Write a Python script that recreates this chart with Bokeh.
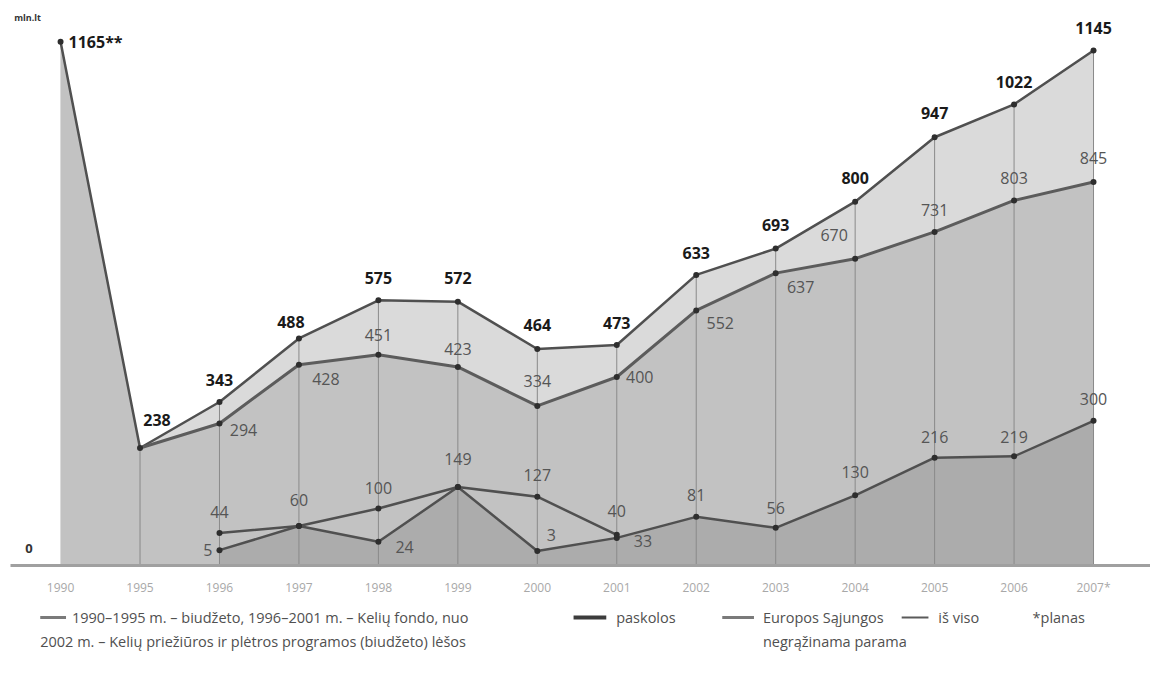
from bokeh.plotting import figure
from bokeh.models import Range1d, FixedTicker, ColumnDataSource
from bokeh.layouts import column
from bokeh.core.properties import value
from bokeh.embed import file_html
from bokeh.resources import INLINE

# ---------------- data ----------------
years = ["1990", "1995", "1996", "1997", "1998", "1999", "2000", "2001",
         "2002", "2003", "2004", "2005", "2006", "2007*"]
total = [1165, 238, 343, 488, 575, 572, 464, 473, 633, 693, 800, 947, 1022, 1145]
budget = [1165, 238, 294, 428, 451, 423, 334, 400, 552, 637, 670, 731, 803, 845]
loan_years = years[2:8]
loans = [44, 60, 100, 149, 127, 40]
eu_years = years[2:]
eu = [5, 60, 24, 149, 3, 33, 81, 56, 130, 216, 219, 300]
eu_label_shown = [True, False, True, False, True, True, True, True, True, True, True, True]
total_label_text = ["1165**"] + [str(v) for v in total[1:]]
unit_text = "mln.lt"
zero_text = "0"

legend_texts = [
    "1990–1995 m. – biudžeto, 1996–2001 m. – Kelių fondo, nuo",
    "2002 m. – Kelių priežiūros ir plėtros programos (biudžeto) lėšos",
    "paskolos",
    "Europos Sąjungos",
    "negrąžinama parama",
    "iš viso",
    "*planas",
]

# ---------------- styles ----------------
FONT = "Open Sans"
C_TOP = "#dadada"
C_BUD = "#c2c2c2"
C_EU = "#acacac"
C_LINE = "#505050"
C_DOT = "#2e2e2e"
BASE = -30  # bottom of the drawing area (fills reach the baseline)

# label offsets (pixels; dy > 0 means upward)
tot_dx = [8, 17, 0, -8, 0, 0, 0, 0, 0, 0, 0, 0, 0, 0]
tot_dy = [0, 28, 22, 16, 22, 24, 24, 22, 22, 24, 24, 24, 22, 22]
tot_align = ["left"] + ["center"] * 13
bud_dx = [24, 27, 0, 0, 0, 23, 24, 25, -21, 0, 0, 0]
bud_dy = [-7, -14, 20, 18, 25, 0, -13, -14, 24, 22, 22, 24]
loan_dx = [0, 0, 0, 0, 0, 0]
loan_dy = [21, 26, 21, 28, 22, 24]
eu_dx = [-7, 0, 17, 0, 14, 17, 0, 0, 0, 0, 0, 0]
eu_dy = [0, 0, -5, 0, 16, -3, 22, 20, 23, 21, 19, 22]
eu_align = ["right", "center", "left", "center", "center", "left"] + ["center"] * 6

xi = list(range(len(years)))
idx = {y: i for i, y in enumerate(years)}
loan_x = [idx[y] for y in loan_years]
eu_x = [idx[y] for y in eu_years]

p = figure(width=1150, height=608, x_range=Range1d(-0.63, 13.717), y_range=Range1d(BASE, 1259),
           toolbar_location=None, output_backend="svg", y_axis_type=None,
           min_border_left=10, min_border_right=0, min_border_top=0, min_border_bottom=43)
p.outline_line_color = None
p.grid.visible = False
p.background_fill_color = "white"

# fills
p.varea(x=xi, y1=[BASE] * len(xi), y2=total, fill_color=C_TOP)
p.varea(x=xi, y1=[BASE] * len(xi), y2=budget, fill_color=C_BUD)
p.varea(x=eu_x, y1=[BASE] * len(eu_x), y2=eu, fill_color=C_EU)

# vertical year lines
p.segment(x0=xi[1:], y0=[BASE] * (len(xi) - 1), x1=xi[1:], y1=total[1:],
          line_color="#8a8a8a", line_width=1)

# lines
p.line(x=xi, y=total, line_color=C_LINE, line_width=2.5)
p.line(x=xi[1:], y=budget[1:], line_color="#5c5c5c", line_width=3)
p.line(x=eu_x, y=eu, line_color=C_LINE, line_width=2.5)
p.line(x=loan_x, y=loans, line_color=C_LINE, line_width=2.5)

# dots
p.scatter(x=xi, y=total, size=6, fill_color=C_DOT, line_color=None)
p.scatter(x=xi[2:], y=budget[2:], size=6, fill_color=C_DOT, line_color=None)
p.scatter(x=eu_x, y=eu, size=6, fill_color=C_DOT, line_color=None)
p.scatter(x=loan_x, y=loans, size=6, fill_color=C_DOT, line_color=None)

# labels
src_tot = ColumnDataSource(dict(x=xi, y=total, t=total_label_text, dx=tot_dx,
                                dy=[-d for d in tot_dy], al=tot_align))
p.text(x="x", y="y", text="t", x_offset="dx", y_offset="dy", text_align="al",
       text_baseline="middle", source=src_tot, text_font=value(FONT),
       text_font_style="bold", text_font_size="16px", text_color="#1a1a1a")

src_bud = ColumnDataSource(dict(x=xi[2:], y=budget[2:], t=[str(v) for v in budget[2:]],
                                dx=bud_dx, dy=[-d for d in bud_dy]))
p.text(x="x", y="y", text="t", x_offset="dx", y_offset="dy", text_align="center",
       text_baseline="middle", source=src_bud, text_font=value(FONT),
       text_font_size="16px", text_color="#555555")

src_loan = ColumnDataSource(dict(x=loan_x, y=loans, t=[str(v) for v in loans],
                                 dx=loan_dx, dy=[-d for d in loan_dy]))
p.text(x="x", y="y", text="t", x_offset="dx", y_offset="dy", text_align="center",
       text_baseline="middle", source=src_loan, text_font=value(FONT),
       text_font_size="16px", text_color="#555555")

sel = [i for i, s in enumerate(eu_label_shown) if s]
src_eu = ColumnDataSource(dict(x=[eu_x[i] for i in sel], y=[eu[i] for i in sel],
                               t=[str(eu[i]) for i in sel], dx=[eu_dx[i] for i in sel],
                               dy=[-eu_dy[i] for i in sel], al=[eu_align[i] for i in sel]))
p.text(x="x", y="y", text="t", x_offset="dx", y_offset="dy", text_align="al",
       text_baseline="middle", source=src_eu, text_font=value(FONT),
       text_font_size="16px", text_color="#555555")

# unit label and zero label, anchored to the first data point / zero level
p.text(x=[xi[0]], y=[total[0]], text=[unit_text], x_offset=-33, y_offset=-24,
       text_align="center", text_baseline="middle", text_font=value(FONT),
       text_font_size="9px", text_font_style="bold", text_color="#333333")
p.text(x=[xi[0]], y=[0], text=[zero_text], x_offset=-28, y_offset=-4,
       text_align="right", text_baseline="middle", text_font=value(FONT),
       text_font_size="13px", text_font_style="bold", text_color="#333333")

# x axis
p.xaxis.ticker = FixedTicker(ticks=xi)
p.xaxis.major_label_overrides = {i: y for i, y in enumerate(years)}
p.xaxis.axis_line_color = "#a0a0a0"
p.xaxis.axis_line_width = 3
p.xaxis.major_tick_line_color = None
p.xaxis.minor_tick_line_color = None
p.xaxis.major_tick_out = 0
p.xaxis.major_label_standoff = 13
p.xaxis.major_label_text_font = FONT
p.xaxis.major_label_text_font_size = "12px"
p.xaxis.major_label_text_color = "#a8a8a8"

# ---------------- legend figure ----------------
q = figure(width=1150, height=67, x_range=Range1d(0, 1150), y_range=Range1d(0, 67),
           toolbar_location=None, output_backend="svg", x_axis_type=None, y_axis_type=None,
           min_border_left=0, min_border_right=0, min_border_top=0, min_border_bottom=0)
q.grid.visible = False
q.outline_line_color = None

sw_x0 = [30, 568, 718, 899]
sw_x1 = [56, 601, 750, 926]
sw_col = ["#7a7a7a", "#3c3c3c", "#7a7a7a", "#5a5a5a"]
sw_w = [3, 4, 3, 2]
q.segment(x0=sw_x0, y0=[58] * 4, x1=sw_x1, y1=[58] * 4, line_color=sw_col, line_width=sw_w)

lt_x = [62, 30, 611, 759, 759, 936, 1031]
lt_y = [58, 34, 58, 58, 34, 58, 58]
q.text(x=lt_x, y=lt_y, text=legend_texts, text_align="left", text_baseline="middle",
       text_font=value(FONT), text_font_size="14.5px", text_color="#505050")

layout = column(p, q, spacing=0)
open("out.html", "w").write(file_html(layout, INLINE))
